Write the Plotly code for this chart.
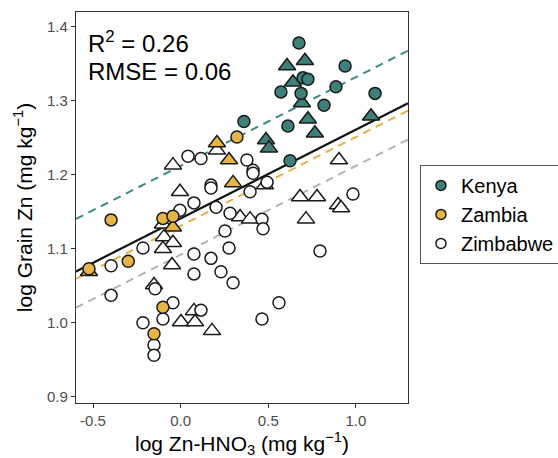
import plotly.graph_objects as go

# ---------------- data ----------------
kenya_circle_x = [0.675, 0.938, 0.698, 0.726, 0.572, 0.687, 0.886, 1.109, 0.818, 0.361, 0.612, 0.624]
kenya_circle_y = [1.378, 1.347, 1.331, 1.329, 1.312, 1.310, 1.319, 1.310, 1.294, 1.272, 1.266, 1.219]
kenya_tri_x = [0.607, 0.709, 0.641, 0.692, 0.726, 0.766, 0.487, 0.504, 1.086]
kenya_tri_y = [1.347, 1.354, 1.325, 1.297, 1.275, 1.256, 1.247, 1.236, 1.279]

zambia_circle_x = [0.321, -0.397, -0.101, -0.044, -0.523, -0.299, -0.101, -0.152]
zambia_circle_y = [1.251, 1.139, 1.141, 1.144, 1.073, 1.083, 1.021, 0.985]
zambia_tri_x = [0.207, 0.276, 0.299, -0.044, -0.523]
zambia_tri_y = [1.243, 1.220, 1.189, 1.129, 1.069]

zimbabwe_circle_x = [0.042, 0.116, 0.378, 0.413, 0.413, 0.173, 0.173, 0.493, 0.396, 0.076,
                     -0.004, 0.202, 0.282, 0.464, 0.470, 0.253, 0.276, -0.215, 0.076, 0.173,
                     0.795, 0.983, -0.397, -0.397, 0.076, 0.230, 0.299, -0.146, -0.044, -0.101,
                     -0.215, 0.116, -0.152, -0.152, 0.561, 0.464]
zimbabwe_circle_y = [1.225, 1.222, 1.220, 1.206, 1.202, 1.186, 1.182, 1.190, 1.177, 1.162,
                     1.152, 1.156, 1.148, 1.140, 1.127, 1.124, 1.101, 1.101, 1.093, 1.087,
                     1.097, 1.174, 1.077, 1.037, 1.066, 1.069, 1.054, 1.046, 1.027, 1.005,
                     1.000, 1.017, 0.970, 0.956, 1.027, 1.005]
zimbabwe_tri_x = [0.207, -0.044, -0.004, -0.101, -0.095, -0.044, -0.101, -0.049, -0.152, 0.339,
                  0.396, 0.481, 0.903, 0.681, 0.778, 0.898, 0.915, 0.715, 0.076, 0.002,
                  0.082, 0.179]
zimbabwe_tri_y = [1.233, 1.213, 1.177, 1.133, 1.116, 1.108, 1.100, 1.078, 1.051, 1.143,
                  1.140, 1.186, 1.220, 1.170, 1.170, 1.159, 1.155, 1.140, 1.016, 1.001,
                  1.001, 0.989]

countries = ["Kenya", "Zambia", "Zimbabwe"]
fill_colors = ["#3D8078", "#E6B545", "#FFFFFF"]
line_colors = ["#3C8C7E", "#E8B04A", "#B3B3B3"]
common_slope = 0.12
overall_intercept = 1.141
country_intercepts = [1.212, 1.131, 1.092]

x_range = [-0.597, 1.297]
y_range = [0.8915, 1.42]
x_ticks = [-0.5, 0.0, 0.5, 1.0]
x_ticktext = ["-0.5", "0.0", "0.5", "1.0"]
y_ticks = [0.9, 1.0, 1.1, 1.2, 1.3, 1.4]
y_ticktext = ["0.9", "1.0", "1.1", "1.2", "1.3", "1.4"]

# ---------------- figure ----------------
fig = go.Figure()

dash = "8px,6px"
for name, lc, b in zip(countries, line_colors, country_intercepts):
    fig.add_trace(go.Scatter(
        x=x_range, y=[b + common_slope * xv for xv in x_range],
        mode="lines", line=dict(color=lc, width=2, dash=dash),
        showlegend=False, hoverinfo="skip"))
fig.add_trace(go.Scatter(
    x=x_range, y=[overall_intercept + common_slope * xv for xv in x_range],
    mode="lines", line=dict(color="#111111", width=2.2),
    showlegend=False, hoverinfo="skip"))

outline = dict(color="#1a1a1a", width=1.5)
series = [
    (zimbabwe_tri_x, zimbabwe_tri_y, zimbabwe_circle_x, zimbabwe_circle_y, fill_colors[2]),
    (zambia_tri_x, zambia_tri_y, zambia_circle_x, zambia_circle_y, fill_colors[1]),
    (kenya_tri_x, kenya_tri_y, kenya_circle_x, kenya_circle_y, fill_colors[0]),
]
for tx, ty, cx, cy, fc in series:
    fig.add_trace(go.Scatter(
        x=tx, y=ty, mode="markers",
        marker=dict(symbol="triangle-up", size=15, color=fc, line=outline),
        showlegend=False))
    fig.add_trace(go.Scatter(
        x=cx, y=cy, mode="markers",
        marker=dict(symbol="circle", size=12, color=fc, line=outline),
        showlegend=False))

# legend entries
for name, fc in zip(countries, fill_colors):
    fig.add_trace(go.Scatter(
        x=[None], y=[None], mode="markers", name=name,
        marker=dict(symbol="circle", size=10, color=fc, line=dict(color="#1a1a1a", width=1.5))))

fig.add_annotation(x=0.03, y=0.922, xref="paper", yref="paper", xanchor="left", yanchor="middle",
                   text="R<sup>2</sup> = 0.26", showarrow=False,
                   font=dict(family="Liberation Sans, Arial", size=24, color="black"))
fig.add_annotation(x=0.03, y=0.849, xref="paper", yref="paper", xanchor="left", yanchor="middle",
                   text="RMSE = 0.06", showarrow=False,
                   font=dict(family="Liberation Sans, Arial", size=24, color="black"))

axis_common = dict(showgrid=False, zeroline=False, showline=True, mirror=True,
                   linecolor="#333333", linewidth=1.2, ticks="outside", ticklen=4,
                   tickcolor="#333333", tickwidth=1,
                   tickfont=dict(family="Liberation Sans, Arial", size=15, color="#4D4D4D"))

fig.update_layout(
    width=558, height=458,
    margin=dict(l=76, r=150, t=12, b=55, autoexpand=False),
    paper_bgcolor="white", plot_bgcolor="white",
    font=dict(family="Liberation Sans, Arial", color="black"),
    xaxis=dict(range=x_range, tickvals=x_ticks, ticktext=x_ticktext,
               title=dict(text="log Zn-HNO<sub>3</sub> (mg kg<sup>\u22121</sup>)",
                          font=dict(size=21, color="black"), standoff=8),
               **axis_common),
    yaxis=dict(range=y_range, tickvals=y_ticks, ticktext=y_ticktext,
               title=dict(text="log Grain Zn (mg kg<sup>\u22121</sup>)",
                          font=dict(size=21, color="black"), standoff=8),
               **axis_common),
    legend=dict(x=1.036, y=0.609, xanchor="left", yanchor="top",
                bordercolor="#555555", borderwidth=1, bgcolor="white",
                font=dict(family="Liberation Sans, Arial", size=20, color="black"),
                itemwidth=30, tracegroupgap=0),
)

fig.write_html("out.html")
